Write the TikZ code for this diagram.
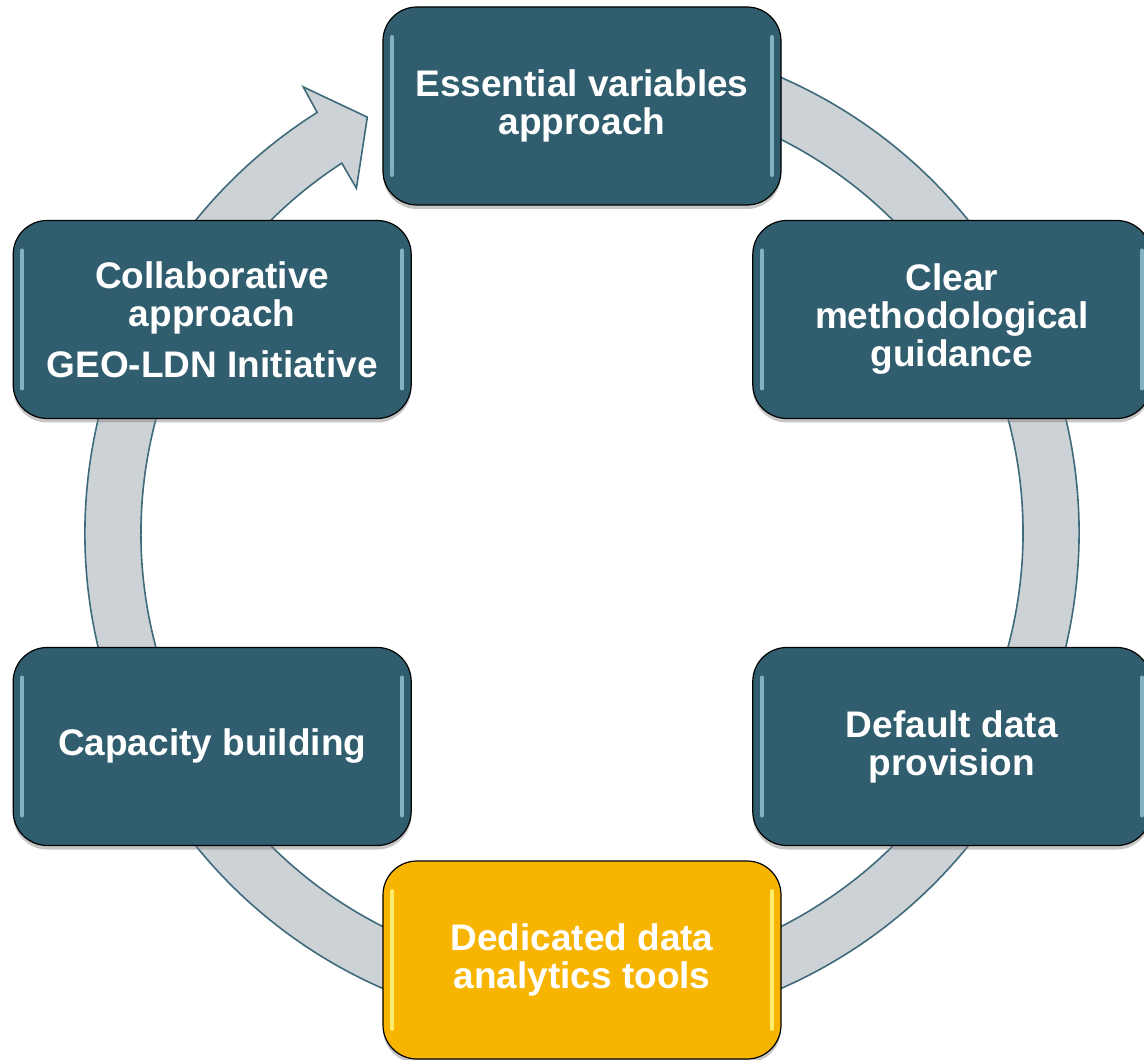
\documentclass[tikz,border=0pt]{standalone}
\usepackage{fontspec}
\setmainfont{Liberation Sans}
\usetikzlibrary{shadows}

\definecolor{stageteal}{RGB}{48,94,111}
\definecolor{stagegold}{RGB}{247,180,0}
\definecolor{ringfill}{RGB}{205,210,214}
\definecolor{ringline}{RGB}{62,107,123}

\tikzset{
  stage/.style={draw=black, line width=1.2pt, fill=stageteal,
    rounded corners=34pt, minimum width=398pt, minimum height=198pt,
    text=white, align=center,
    font=\fontsize{37}{38}\selectfont\bfseries,
    drop shadow={shadow xshift=0pt, shadow yshift=-4pt, opacity=.45},
    path picture={
      \draw[glint, line width=4pt, line cap=round]
        ([xshift=9pt,yshift=-30pt]path picture bounding box.north west)
        -- ([xshift=9pt,yshift=30pt]path picture bounding box.south west);
      \draw[glint, line width=4pt, line cap=round]
        ([xshift=-9pt,yshift=-30pt]path picture bounding box.north east)
        -- ([xshift=-9pt,yshift=30pt]path picture bounding box.south east);
    }},
  glint/.style={draw=white!75!cyan, opacity=.6},
  highlight/.style={fill=stagegold, glint/.style={draw=yellow!50!white, opacity=.85}},
  ring/.style={fill=ringfill, draw=ringline, line width=1.6pt, line join=miter}
}

\begin{document}
\begin{tikzpicture}[x=1pt, y=1pt]
  \useasboundingbox (-582,-527) rectangle (562,533);

  % circular arrow behind the stages
  \path[ring] (80:497) arc[start angle=80, end angle=-237.8, radius=497]
    -- (-238:526) -- (-242.7:468) -- (-236.8:412) -- (-237:441)
    arc[start angle=-237, end angle=80, radius=441] -- cycle;

  \node[stage] (EV) at (90:427) {Essential variables\\approach};
  \node[stage] (MG) at (30:427) {Clear\\methodological\\guidance};
  \node[stage] (DD) at (-30:427) {Default data\\provision};
  \node[stage, highlight] (DT) at (-90:427) {Dedicated data\\analytics tools};
  \node[stage] (CB) at (210:427) {Capacity building};
  \node[stage] (CA) at (150:427) {Collaborative\\approach\\[13pt]GEO-LDN Initiative};
\end{tikzpicture}
\end{document}
